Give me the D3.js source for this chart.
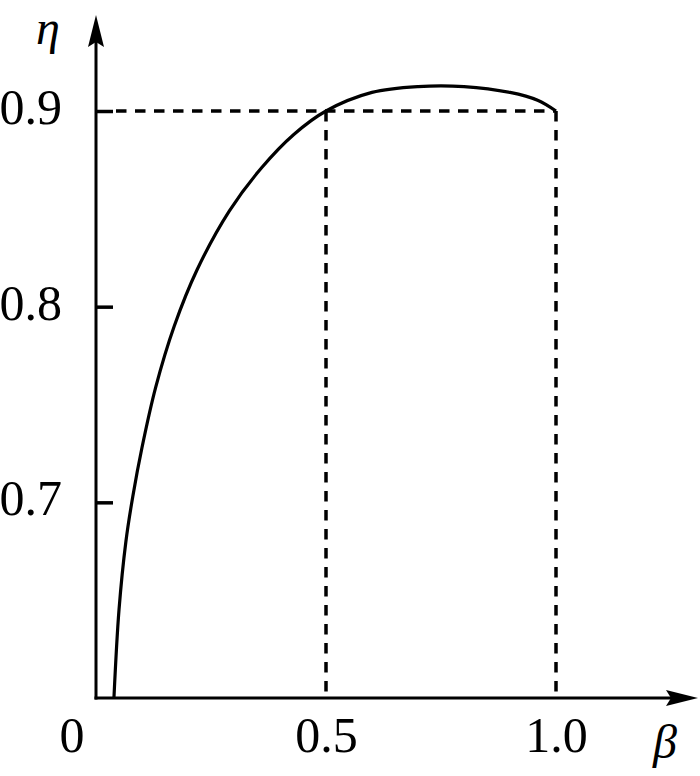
<!DOCTYPE html>
<html>
<head>
<meta charset="utf-8">
<script src="https://cdn.jsdelivr.net/npm/d3@7"></script>
<style>
  body { margin: 0; background: #fff; }
  svg text { font-family: "Liberation Serif", "Times New Roman", serif; fill: #000; }
</style>
</head>
<body>
<svg id="chart" width="700" height="776"></svg>
<script>
// curve: load factor beta vs efficiency eta
const betaVals = [0.039, 0.05, 0.065, 0.08, 0.10, 0.13, 0.17, 0.22, 0.29, 0.36, 0.43,
                  0.5, 0.6, 0.7, 0.8, 0.9, 0.96, 1.0];
const etaVals  = [0.6, 0.645, 0.68, 0.703, 0.728, 0.759, 0.79, 0.819, 0.849, 0.871, 0.888,
                  0.9, 0.9095, 0.9125, 0.9125, 0.9095, 0.9055, 0.9];
const yTicks = [0.7, 0.8, 0.9];
const xTicks = [0.5, 1.0];
const guideBeta = [0.5, 1.0];   // dashed verticals
const guideEta = 0.9;           // dashed horizontal

const svg = d3.select("#chart");
const x0 = 96, y0 = 698;

const x = d3.scaleLinear().domain([0, 1]).range([x0, 556]);
const y = d3.scaleLinear().domain([0.6, 0.9]).range([y0, 111]);

// dashed guides
svg.append("line")
  .attr("x1", x0 + 20).attr("x2", x(1))
  .attr("y1", y(guideEta)).attr("y2", y(guideEta))
  .attr("stroke", "#000").attr("stroke-width", 3.5)
  .attr("stroke-dasharray", "10.5,8.5");

svg.selectAll(".vguide")
  .data(guideBeta)
  .enter()
  .append("line")
  .attr("class", "vguide")
  .attr("x1", d => x(d)).attr("x2", d => x(d))
  .attr("y1", y(guideEta)).attr("y2", y0)
  .attr("stroke", "#000").attr("stroke-width", 3.5)
  .attr("stroke-dasharray", "10.5,8.5");

// y axis ticks (inward) + labels
const yAxis = d3.axisLeft(y)
  .tickValues(yTicks)
  .tickSizeInner(-17)
  .tickSizeOuter(0)
  .tickPadding(34)
  .tickFormat(d3.format(".1f"));

const gy = svg.append("g")
  .attr("transform", `translate(${x0},0)`)
  .call(yAxis);
gy.select(".domain").remove();
gy.selectAll("line").attr("stroke", "#000").attr("stroke-width", 3.5);
gy.selectAll("text")
  .attr("dy", "0.25em")
  .style("font-size", "50px")
  .style("font-family", "'Liberation Serif', serif");

// x axis labels
const xAxis = d3.axisBottom(x)
  .tickValues(xTicks)
  .tickSize(0)
  .tickPadding(18)
  .tickFormat(d3.format(".1f"));

const gx = svg.append("g")
  .attr("transform", `translate(0,${y0})`)
  .call(xAxis);
gx.select(".domain").remove();
gx.selectAll("text")
  .style("font-size", "50px")
  .style("font-family", "'Liberation Serif', serif");

svg.append("text")
  .attr("x", 72).attr("y", 752)
  .attr("text-anchor", "middle")
  .style("font-size", "50px")
  .text("0");

// axis lines with arrow heads
svg.append("line")
  .attr("x1", x0).attr("x2", x0)
  .attr("y1", y0 + 1.5).attr("y2", 30)
  .attr("stroke", "#000").attr("stroke-width", 3);
svg.append("path")
  .attr("d", `M${x0},15 L${x0 - 8},47 L${x0},42 L${x0 + 8},47 Z`)
  .attr("fill", "#000");

svg.append("line")
  .attr("x1", x0 - 1.5).attr("x2", 680)
  .attr("y1", y0).attr("y2", y0)
  .attr("stroke", "#000").attr("stroke-width", 3);
svg.append("path")
  .attr("d", `M698,${y0} L666,${y0 - 8} L671,${y0} L666,${y0 + 8} Z`)
  .attr("fill", "#000");

// axis names
svg.append("text")
  .attr("x", 48).attr("y", 44)
  .attr("text-anchor", "middle")
  .style("font-size", "48px")
  .style("font-style", "italic")
  .text("η");

svg.append("text")
  .attr("x", 665).attr("y", 758)
  .attr("text-anchor", "middle")
  .style("font-size", "48px")
  .style("font-style", "italic")
  .text("β");

// efficiency curve
const pts = betaVals.map((b, i) => [b, etaVals[i]]);
const line = d3.line()
  .x(d => x(d[0]))
  .y(d => y(d[1]))
  .curve(d3.curveCatmullRom.alpha(0.5));

svg.append("path")
  .datum(pts)
  .attr("d", line)
  .attr("fill", "none")
  .attr("stroke", "#000")
  .attr("stroke-width", 3.2);
</script>
</body>
</html>
